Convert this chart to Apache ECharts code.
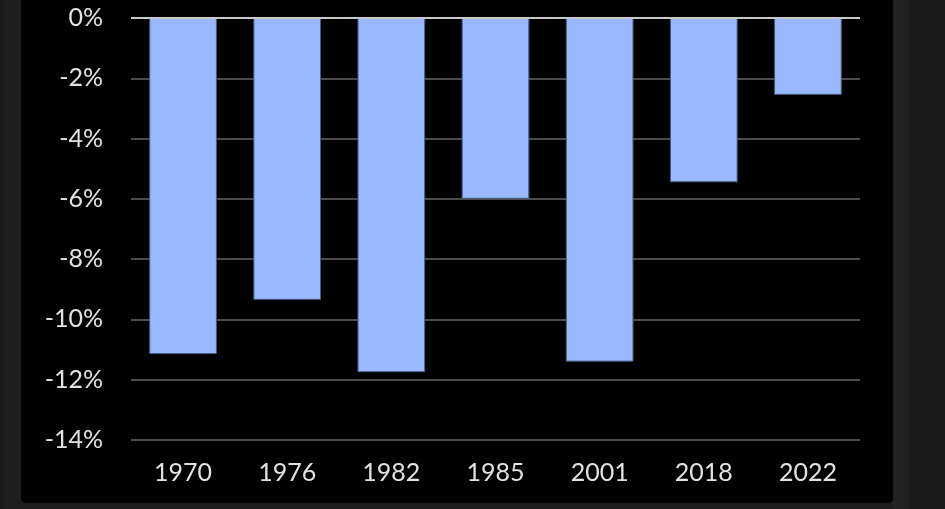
<!DOCTYPE html>
<html><head><meta charset="utf-8">
<script src="https://cdn.jsdelivr.net/npm/echarts@6/dist/echarts.min.js"></script>
<style>html,body{margin:0;padding:0;background:#1e1e1e;}#c{width:945px;height:509px;}</style>
</head><body><div id="c"></div>
<script>
const categories = ['1970','1976','1982','1985','2001','2018','2022'];
const values = [-11.15, -9.35, -11.75, -6.0, -11.4, -5.45, -2.55];
const yTicks = {min: -14, max: 0, interval: 2};

const chart = echarts.init(document.getElementById('c'));
chart.setOption({
  backgroundColor: '#1e1e1e',
  animation: false,
  graphic: [
    {type:'rect', left: 0, top: 0, shape:{width:4, height:509}, style:{fill:'#191919'}, z:-10},
    {type:'rect', left: 893, top: 0, shape:{width:16, height:509}, style:{fill:'#222222'}, z:-10},
    {type:'rect', left: 909, top: 0, shape:{width:36, height:509}, style:{fill:'#1a1a1a'}, z:-10},
    {type:'rect', left: 21, top: -10, shape:{width:872, height:513, r:5}, style:{fill:'#000000'}, z:-9}
  ],
  grid: {left: 131, right: 85, top: 18, bottom: 69},
  xAxis: {
    type: 'category', data: categories,
    axisLine: {show: false}, axisTick: {show: false},
    axisLabel: {color: '#e2e2e2', fontFamily: 'Lato', fontSize: 25, margin: 20}
  },
  yAxis: {
    type: 'value', min: yTicks.min, max: yTicks.max, interval: yTicks.interval,
    axisLine: {show: false}, axisTick: {show: false},
    axisLabel: {color: '#e2e2e2', fontFamily: 'Lato', fontSize: 25, margin: 28, formatter: '{value}%'},
    splitLine: {lineStyle: {color: '#4c4c4c', width: 2}}
  },
  series: [{
    type: 'bar', data: values, barWidth: '65%',
    itemStyle: {color: '#9ab8fd', borderColor: '#4a5b80', borderWidth: 1},
    markLine: {silent: true, symbol: 'none', label: {show: false},
      lineStyle: {color: '#c8c8c8', width: 2, type: 'solid'},
      data: [{yAxis: 0}]}
  }]
});
</script></body></html>
